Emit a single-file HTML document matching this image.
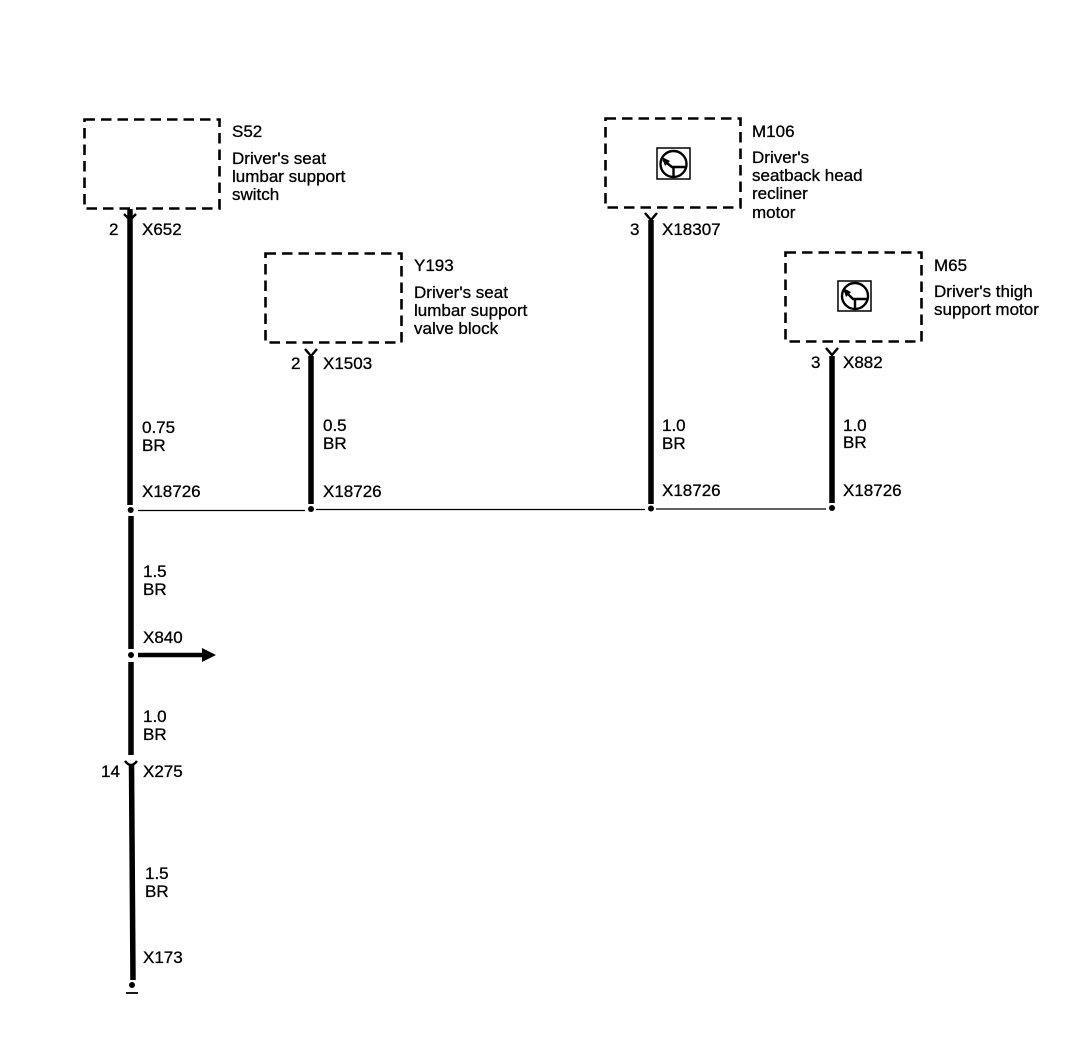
<!DOCTYPE html>
<html><head><meta charset="utf-8"><style>
html,body{margin:0;padding:0;background:#fff;width:1088px;height:1050px;overflow:hidden}
svg{display:block}
text{font-family:"Liberation Sans",sans-serif;font-size:17px;fill:#000;stroke:#000;stroke-width:.3}
.b{fill:none;stroke:#000;stroke-width:2.6;stroke-dasharray:10.5 6}
.w{stroke:#000;stroke-width:5.5;fill:none}
.f{fill:none;stroke:#000;stroke-width:2.4}
.t{fill:none;stroke:#000;stroke-width:1.5}
</style></head><body>
<svg width="1088" height="1050" viewBox="0 0 1088 1050" xmlns="http://www.w3.org/2000/svg">
<rect width="1088" height="1050" fill="#fff"/>
<!-- boxes -->
<rect class="b" x="84.5" y="119.5" width="135" height="89"/>
<rect class="b" x="265.5" y="253.5" width="136" height="89"/>
<rect class="b" x="605.5" y="118.5" width="135" height="89"/>
<rect class="b" x="785.5" y="252.5" width="136" height="89"/>
<!-- wires -->
<path class="w" d="M130 209V505"/>
<path class="w" d="M131 516V649"/>
<path class="w" d="M131 662V755"/>
<path class="w" d="M131.500 765L133 980"/>
<path class="w" d="M311 356V504"/>
<path class="w" d="M651 220V504"/>
<path class="w" d="M832 356V503"/>
<!-- forks -->
<path class="f" d="M124 214L130 220L136 214"/>
<path class="f" d="M305 349L311 356L317 349"/>
<path class="f" d="M645 213L651 220L657 213"/>
<path class="f" d="M826 348L832 355L838 348"/>
<path class="f" d="M125 761Q131 769 137 761"/>
<!-- bus -->
<path d="M138 510.500H305M316 509.500H645M656 509H826" stroke="#000" stroke-width="1.300" fill="none"/>
<circle cx="130.700" cy="510" r="3"/>
<circle cx="311" cy="509" r="3"/>
<circle cx="651" cy="508.500" r="3"/>
<circle cx="832" cy="508" r="3"/>
<circle cx="131" cy="655" r="3"/>
<circle cx="132" cy="985" r="3"/>
<path d="M126 993H138" stroke="#000" stroke-width="1.800"/>
<!-- arrow -->
<path d="M138 655H204" stroke="#000" stroke-width="4.500"/>
<path d="M202 648L216 655L202 662Z"/>
<!-- M106 icon -->
<rect class="t" x="657" y="148" width="33" height="31"/>
<circle class="f" cx="673.500" cy="164" r="13"/>
<path class="f" d="M663 160L672 167H685M673.500 167V177"/>
<path d="M662 157L670 161L665 166Z"/>
<!-- M65 icon -->
<rect class="t" x="838" y="281" width="33" height="30"/>
<circle class="f" cx="855" cy="296" r="13"/>
<path class="f" d="M844 290L853 299H867M855 299V309"/>
<path d="M843 288L851 292L846 297Z"/>
<!-- text -->
<text x="232" y="137">S52</text>
<text x="232" y="164">Driver's seat</text>
<text x="232" y="182">lumbar support</text>
<text x="232" y="200">switch</text>
<text x="109" y="235">2</text>
<text x="142" y="235">X652</text>
<text x="414" y="271">Y193</text>
<text x="414" y="298">Driver's seat</text>
<text x="414" y="316">lumbar support</text>
<text x="414" y="334">valve block</text>
<text x="291" y="369">2</text>
<text x="323" y="369">X1503</text>
<text x="752" y="137">M106</text>
<text x="752" y="163">Driver's</text>
<text x="752" y="181">seatback head</text>
<text x="752" y="199">recliner</text>
<text x="752" y="218">motor</text>
<text x="630" y="235">3</text>
<text x="662" y="235">X18307</text>
<text x="934" y="271">M65</text>
<text x="934" y="297">Driver's thigh</text>
<text x="934" y="315">support motor</text>
<text x="811" y="368">3</text>
<text x="843" y="368">X882</text>
<text x="142" y="433">0.75</text>
<text x="142" y="451">BR</text>
<text x="323" y="431">0.5</text>
<text x="323" y="449">BR</text>
<text x="662" y="431">1.0</text>
<text x="662" y="449">BR</text>
<text x="843" y="431">1.0</text>
<text x="843" y="448">BR</text>
<text x="142" y="497">X18726</text>
<text x="323" y="497">X18726</text>
<text x="662" y="496">X18726</text>
<text x="843" y="496">X18726</text>
<text x="143" y="577">1.5</text>
<text x="143" y="595">BR</text>
<text x="143" y="643">X840</text>
<text x="143" y="722">1.0</text>
<text x="143" y="740">BR</text>
<text x="101" y="777">14</text>
<text x="143" y="777">X275</text>
<text x="145" y="879">1.5</text>
<text x="145" y="897">BR</text>
<text x="143" y="963">X173</text>
</svg>
</body></html>
